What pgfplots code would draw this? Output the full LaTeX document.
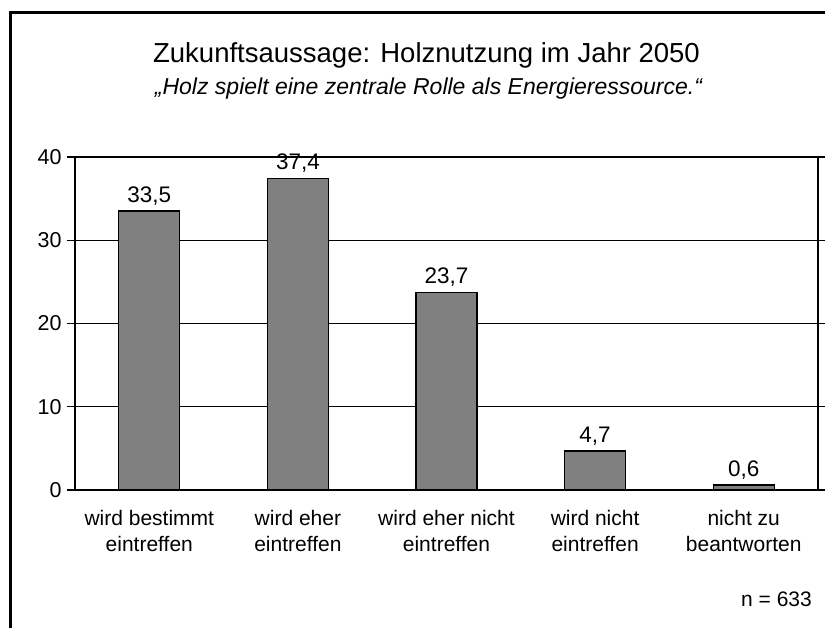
\documentclass[border=0pt]{standalone}
\usepackage{pgfplots}
\pgfplotsset{compat=1.18}
\usepackage{fontspec}
\setmainfont{Liberation Sans}
\definecolor{barg}{RGB}{128,128,128}
\begin{document}
\begin{tikzpicture}[x=1pt,y=1pt]
\useasboundingbox (0,0) rectangle (825,628);
\draw[line width=3pt] (10.3,0) -- (10.3,615) -- (825,615);
\node[anchor=base,inner sep=0pt,font=\fontsize{27.5}{32}\selectfont] at (426.5,565) {Zukunftsaussage: Holznutzung im Jahr 2050};
\node[anchor=base,inner sep=0pt,font=\fontsize{23}{27}\selectfont\itshape] at (428.5,533) {„Holz spielt eine zentrale Rolle als Energieressource.“};
\node[anchor=base east,inner sep=0pt,font=\fontsize{21}{24}\selectfont] at (812,21) {n = 633};
\begin{axis}[
  at={(75pt,138pt)}, anchor=south west,
  scale only axis, width=743pt, height=333pt,
  xmin=-0.5, xmax=4.5, ymin=0, ymax=40,
  xtick=data,
  xticklabels={{wird bestimmt\\eintreffen},{wird eher\\eintreffen},{wird eher nicht\\eintreffen},{wird nicht\\eintreffen},{nicht zu\\beantworten}},
  x tick label style={align=center, font=\fontsize{21}{25.5}\selectfont, yshift=-9pt},
  ytick={0,10,20,30,40},
  y tick label style={font=\fontsize{21.5}{24}\selectfont, xshift=-2pt},
  /pgf/number format/assume math mode=true,
  tick align=outside,
  major tick length=8pt,
  xtick style={draw=none},
  ytick style={black, line width=1.2pt},
  ymajorgrids,
  grid style={black, line width=1.3pt},
  axis line style={black, line width=1.6pt},
  ybar, bar width=61pt,
  nodes near coords,
  nodes near coords style={font=\fontsize{22.5}{24}\selectfont, yshift=2pt, /pgf/number format/.cd, use comma, fixed, fixed zerofill, precision=1, assume math mode=true},
]
\addplot[fill=barg, draw=black, line width=1.3pt] coordinates {(0,33.5) (1,37.4) (2,23.7) (3,4.7) (4,0.6)};
\end{axis}
\end{tikzpicture}
\end{document}
